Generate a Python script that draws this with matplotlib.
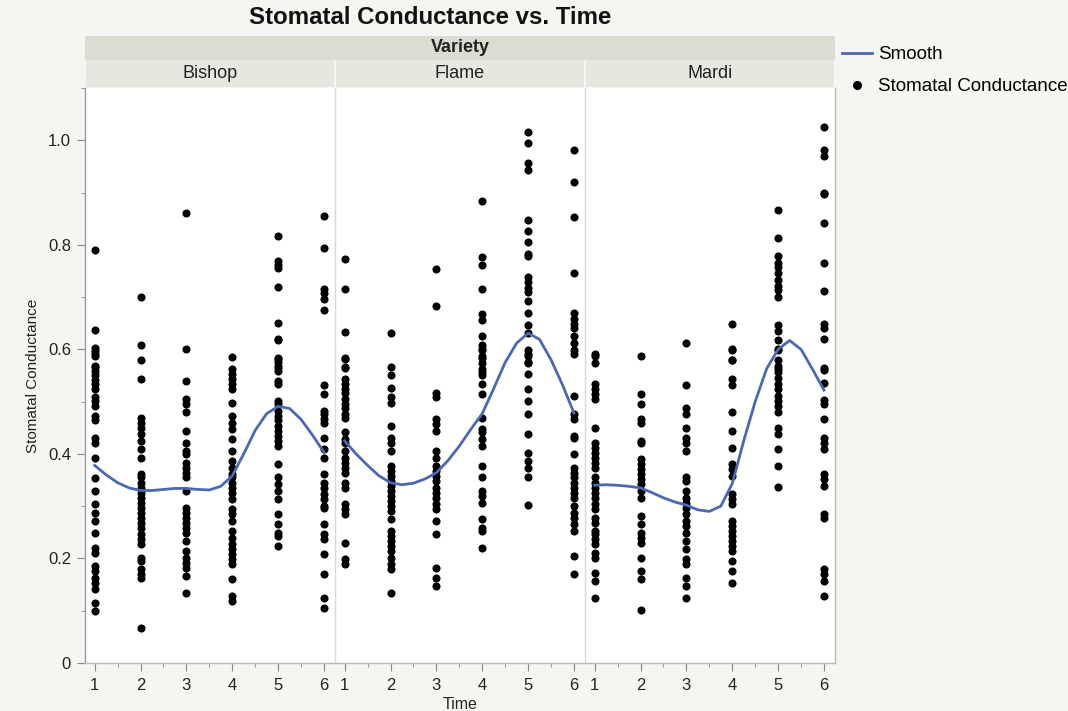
import matplotlib
matplotlib.use("Agg")
import matplotlib.pyplot as plt
from matplotlib.lines import Line2D
from matplotlib.patches import Rectangle
from matplotlib.ticker import MultipleLocator

plt.rcParams['font.family'] = ['Liberation Sans', 'DejaVu Sans']

## Data
varieties = ["Bishop", "Flame", "Mardi"]
times = [1, 2, 3, 4, 5, 6]

# stomatal conductance per time point (1..6)
bishop = [
    [0.791, 0.638, 0.603, 0.596, 0.588, 0.567, 0.592, 0.569, 0.559, 0.550, 0.542, 0.534, 0.525,
     0.508, 0.502, 0.492, 0.473, 0.464, 0.431, 0.421, 0.393, 0.354, 0.329, 0.304, 0.287, 0.272,
     0.249, 0.220, 0.211, 0.186, 0.176, 0.163, 0.153, 0.142, 0.115, 0.100],
    [0.700, 0.609, 0.580, 0.544, 0.469, 0.460, 0.450, 0.438, 0.425, 0.410, 0.393, 0.362, 0.355,
     0.345, 0.335, 0.326, 0.316, 0.307, 0.297, 0.287, 0.278, 0.268, 0.259, 0.247, 0.237, 0.228,
     0.201, 0.195, 0.180, 0.170, 0.163, 0.067],
    [0.860, 0.600, 0.539, 0.506, 0.496, 0.480, 0.443, 0.421, 0.406, 0.400, 0.383, 0.374, 0.364,
     0.355, 0.329, 0.297, 0.287, 0.278, 0.268, 0.259, 0.249, 0.234, 0.215, 0.201, 0.192, 0.182,
     0.167, 0.134],
    [0.586, 0.563, 0.553, 0.544, 0.534, 0.525, 0.498, 0.473, 0.460, 0.448, 0.429, 0.406, 0.387,
     0.374, 0.362, 0.355, 0.345, 0.335, 0.326, 0.314, 0.295, 0.285, 0.272, 0.253, 0.240, 0.228,
     0.218, 0.209, 0.199, 0.190, 0.161, 0.128, 0.119],
    [0.816, 0.770, 0.762, 0.756, 0.720, 0.651, 0.619, 0.617, 0.582, 0.575, 0.565, 0.584, 0.569,
     0.559, 0.540, 0.534, 0.502, 0.496, 0.483, 0.473, 0.464, 0.454, 0.444, 0.435, 0.425, 0.416,
     0.381, 0.355, 0.343, 0.329, 0.314, 0.285, 0.266, 0.249, 0.243, 0.224],
    [0.856, 0.793, 0.715, 0.707, 0.697, 0.676, 0.531, 0.515, 0.483, 0.477, 0.467, 0.460, 0.431,
     0.410, 0.393, 0.362, 0.345, 0.335, 0.324, 0.314, 0.301, 0.297, 0.266, 0.247, 0.237, 0.209,
     0.170, 0.125, 0.105],
]

flame = [
    [0.772, 0.716, 0.634, 0.582, 0.565, 0.584, 0.567, 0.544, 0.534, 0.525, 0.517, 0.506, 0.496,
     0.487, 0.477, 0.469, 0.441, 0.429, 0.420, 0.406, 0.393, 0.383, 0.374, 0.364, 0.345, 0.335,
     0.304, 0.295, 0.285, 0.230, 0.199, 0.190],
    [0.632, 0.567, 0.550, 0.527, 0.508, 0.498, 0.454, 0.431, 0.421, 0.406, 0.377, 0.368, 0.358,
     0.349, 0.339, 0.329, 0.320, 0.310, 0.301, 0.291, 0.276, 0.253, 0.243, 0.234, 0.224, 0.215,
     0.201, 0.190, 0.180, 0.134],
    [0.753, 0.682, 0.517, 0.508, 0.467, 0.458, 0.444, 0.406, 0.393, 0.377, 0.368, 0.358, 0.349,
     0.335, 0.326, 0.316, 0.304, 0.295, 0.272, 0.247, 0.182, 0.163, 0.148],
    [0.883, 0.776, 0.762, 0.715, 0.667, 0.657, 0.626, 0.609, 0.601, 0.584, 0.563, 0.598, 0.588,
     0.573, 0.556, 0.550, 0.534, 0.515, 0.469, 0.448, 0.441, 0.429, 0.416, 0.377, 0.355, 0.329,
     0.320, 0.307, 0.276, 0.259, 0.253, 0.220],
    [1.015, 0.994, 0.956, 0.943, 0.847, 0.826, 0.805, 0.783, 0.778, 0.738, 0.728, 0.718, 0.709,
     0.693, 0.670, 0.646, 0.632, 0.598, 0.588, 0.575, 0.592, 0.573, 0.553, 0.525, 0.502, 0.477,
     0.438, 0.402, 0.387, 0.374, 0.355, 0.303],
    [0.981, 0.921, 0.853, 0.747, 0.669, 0.659, 0.649, 0.640, 0.626, 0.613, 0.598, 0.592, 0.511,
     0.477, 0.467, 0.435, 0.431, 0.400, 0.374, 0.364, 0.355, 0.345, 0.335, 0.326, 0.316, 0.301,
     0.287, 0.278, 0.266, 0.253, 0.205, 0.170],
]

mardi = [
    [0.592, 0.573, 0.588, 0.534, 0.525, 0.515, 0.506, 0.450, 0.421, 0.412, 0.402, 0.393, 0.383,
     0.374, 0.355, 0.345, 0.335, 0.326, 0.316, 0.304, 0.295, 0.278, 0.268, 0.253, 0.247, 0.237,
     0.228, 0.211, 0.201, 0.172, 0.157, 0.125],
    [0.588, 0.515, 0.496, 0.467, 0.460, 0.425, 0.420, 0.391, 0.381, 0.372, 0.362, 0.352, 0.343,
     0.329, 0.316, 0.282, 0.266, 0.249, 0.240, 0.230, 0.201, 0.176, 0.161, 0.102],
    [0.613, 0.531, 0.487, 0.477, 0.450, 0.431, 0.421, 0.406, 0.355, 0.349, 0.329, 0.316, 0.307,
     0.297, 0.285, 0.272, 0.262, 0.249, 0.234, 0.218, 0.199, 0.190, 0.163, 0.148, 0.125],
    [0.649, 0.600, 0.580, 0.598, 0.579, 0.544, 0.531, 0.480, 0.444, 0.412, 0.381, 0.372, 0.358,
     0.324, 0.314, 0.304, 0.272, 0.262, 0.253, 0.243, 0.234, 0.224, 0.215, 0.195, 0.176, 0.153],
    [0.866, 0.814, 0.778, 0.766, 0.757, 0.747, 0.732, 0.722, 0.713, 0.701, 0.646, 0.636, 0.617,
     0.601, 0.579, 0.563, 0.598, 0.569, 0.556, 0.546, 0.534, 0.525, 0.511, 0.502, 0.492, 0.480,
     0.450, 0.438, 0.410, 0.377, 0.337],
    [1.025, 0.981, 0.969, 0.900, 0.897, 0.841, 0.766, 0.711, 0.648, 0.640, 0.619, 0.565, 0.561,
     0.536, 0.504, 0.496, 0.467, 0.431, 0.421, 0.410, 0.362, 0.352, 0.339, 0.285, 0.278, 0.180,
     0.170, 0.157, 0.128],
]

# smoother curve read at quarter steps of Time
smooth_x = [1.0, 1.25, 1.5, 1.75, 2.0, 2.25, 2.5, 2.75, 3.0, 3.25, 3.5,
            3.75, 4.0, 4.25, 4.5, 4.75, 5.0, 5.25, 5.5, 5.75, 6.0]
smooth_bishop = [0.378, 0.360, 0.345, 0.335, 0.330, 0.330, 0.332, 0.334, 0.334, 0.332, 0.331,
                 0.338, 0.358, 0.400, 0.445, 0.477, 0.491, 0.487, 0.466, 0.436, 0.403]
smooth_flame = [0.425, 0.400, 0.378, 0.358, 0.345, 0.341, 0.344, 0.352, 0.364, 0.387, 0.415,
                0.447, 0.477, 0.525, 0.575, 0.612, 0.631, 0.619, 0.580, 0.532, 0.478]
smooth_mardi = [0.340, 0.341, 0.340, 0.338, 0.335, 0.326, 0.316, 0.308, 0.302, 0.293, 0.290,
                0.300, 0.343, 0.425, 0.500, 0.563, 0.600, 0.617, 0.600, 0.562, 0.522]

all_points = [bishop, flame, mardi]
all_smooth = [smooth_bishop, smooth_flame, smooth_mardi]

## Styling
W, H = 1068, 711
bg = "#f5f5f1"
band_dark = "#dcdcd2"
band_light = "#e7e7df"
curve_col = "#4a68b4"
frame_col = "#b8b8b8"

fig = plt.figure(figsize=(W / 100, H / 100), dpi=100, facecolor=bg)

left, right, top, bottom = 85, 835, 88, 663
pw = (right - left) / 3.0


def fx(px):
    return px / W


def fy(py):
    return 1 - py / H


axes = []
for i, name in enumerate(varieties):
    ax = fig.add_axes([fx(left + i * pw), fy(bottom), pw / W, (bottom - top) / H])
    ax.set_facecolor("white")
    pts = all_points[i]
    for t, vals in zip(times, pts):
        ax.scatter([t] * len(vals), vals, s=34, color="black", linewidths=0, zorder=3)
    ax.plot(smooth_x, all_smooth[i], color=curve_col, lw=2.0, zorder=4,
            solid_joinstyle="round")

    ax.set_xlim(0.79, 6.24)
    ax.set_ylim(0, 1.1)
    ax.set_xticks(times)
    ax.xaxis.set_minor_locator(MultipleLocator(0.5))
    ax.tick_params(axis="x", which="major", length=6, color="#888888", labelsize=12,
                   labelcolor="#222222", pad=5)
    ax.tick_params(axis="x", which="minor", length=3, color="#888888")
    for s in ax.spines.values():
        s.set_color(frame_col)
        s.set_linewidth(1.0)
    ax.spines["top"].set_visible(False)
    if i == 0:
        ax.set_yticks([0, 0.2, 0.4, 0.6, 0.8, 1.0])
        ax.set_yticklabels(["0", "0.2", "0.4", "0.6", "0.8", "1.0"])
        ax.yaxis.set_minor_locator(MultipleLocator(0.1))
        ax.tick_params(axis="y", which="major", length=6, color="#888888", labelsize=12,
                       labelcolor="#222222", pad=4)
        ax.tick_params(axis="y", which="minor", length=3, color="#888888")
        ax.set_ylabel("Stomatal Conductance", fontsize=11, color="#222222", labelpad=6)
        ax.spines["left"].set_color("#999999")
    else:
        ax.set_yticks([])
        ax.spines["left"].set_color("#d8d8d8")
    if i < 2:
        ax.spines["right"].set_visible(False)
    if i == 1:
        ax.set_xlabel("Time", fontsize=11.5, color="#222222", labelpad=3)
    axes.append(ax)

# facet header bands
fig.add_artist(Rectangle((fx(left), fy(60)), (right - left) / W, 24 / H,
                         transform=fig.transFigure, facecolor=band_dark, edgecolor="none"))
fig.text(fx((left + right) / 2), fy(48), "Variety", ha="center", va="center",
         fontsize=13, fontweight="bold", color="#222222")
for i, name in enumerate(varieties):
    x0 = left + i * pw
    fig.add_artist(Rectangle((fx(x0 + 1), fy(87)), (pw - 2) / W, 27 / H,
                             transform=fig.transFigure, facecolor=band_light, edgecolor="none"))
    fig.text(fx(x0 + pw / 2), fy(74), name, ha="center", va="center",
             fontsize=13, color="#222222")

fig.text(fx(430), fy(18), "Stomatal Conductance vs. Time", ha="center", va="center",
         fontsize=17.3, fontweight="bold", color="#111111")

handles = [Line2D([], [], color=curve_col, lw=2.0),
           Line2D([], [], ls="none", marker="o", color="black", markersize=5.5)]
fig.legend(handles, ["Smooth", "Stomatal Conductance"], loc="upper left",
           bbox_to_anchor=(fx(842), fy(46)), frameon=False, fontsize=13.5,
           handlelength=1.6, handletextpad=0.3, labelspacing=0.8, borderaxespad=0,
           borderpad=0)

fig.savefig("out.png", dpi=100, facecolor=bg)
